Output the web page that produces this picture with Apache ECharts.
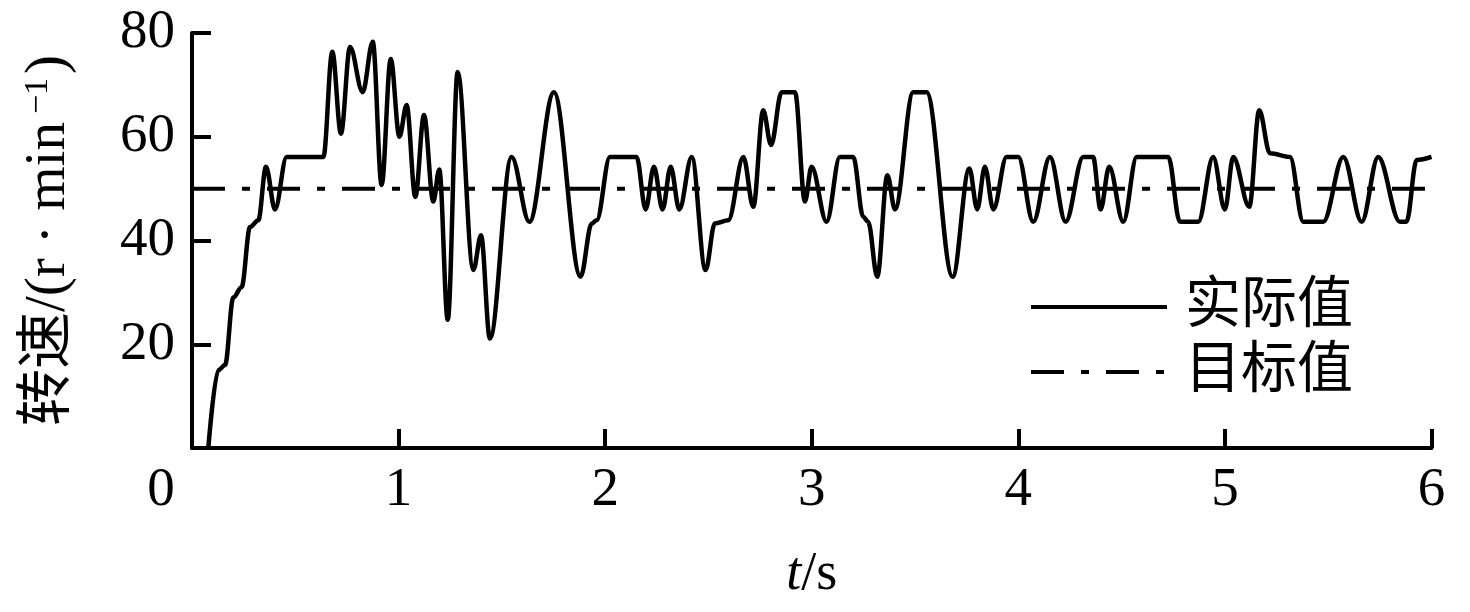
<!DOCTYPE html>
<html>
<head>
<meta charset="utf-8">
<script src="https://cdn.jsdelivr.net/npm/echarts@6/dist/echarts.min.js"></script>
<style>
html,body{margin:0;padding:0;background:#fff;}
#chart{width:1470px;height:612px;}
</style>
</head>
<body>
<div id="chart"></div>
<script>
// time in s
const timeValues = [0.079,0.127,0.16,0.2,0.24,0.281,0.321,0.358,0.402,0.458,0.636,0.679,0.721,0.765,0.826,0.875,0.918,0.962,1.004,1.039,1.081,1.123,1.168,1.197,1.238,1.286,1.362,1.399,1.442,1.547,1.633,1.752,1.881,1.935,1.959,2.023,2.152,2.196,2.236,2.278,2.317,2.359,2.419,2.486,2.531,2.596,2.669,2.717,2.765,2.803,2.854,2.919,2.967,2.999,3.072,3.136,3.201,3.249,3.273,3.317,3.366,3.403,3.491,3.556,3.682,3.763,3.801,3.838,3.879,3.943,4.0,4.072,4.153,4.229,4.314,4.362,4.398,4.44,4.508,4.573,4.726,4.782,4.871,4.943,5.0,5.04,5.118,5.166,5.218,5.315,5.379,5.476,5.573,5.662,5.742,5.847,5.879,5.928,6.0];
// actual speed r/min
const actualValues = [0,15.0,16.0,29.0,31.0,42.6,43.9,54.2,46.0,56.1,56.1,76.4,60.6,77.3,68.6,78.3,50.7,75.0,60.0,66.1,48.4,64.2,47.5,53.7,24.7,72.5,34.3,41.0,21.1,56.1,43.6,68.6,33.0,43.3,43.9,56.1,56.1,46.0,54.2,46.0,54.2,46.0,56.1,34.3,43.3,43.9,56.1,46.5,65.1,58.4,68.6,68.6,47.5,54.2,43.6,56.1,56.1,44.6,43.6,33.0,52.6,46.0,68.6,68.6,33.0,53.9,46.0,54.2,46.0,56.1,56.1,43.6,56.1,43.6,56.1,56.1,46.0,54.2,43.6,56.1,56.1,43.6,43.6,56.1,46.0,56.1,46.5,65.1,56.8,56.1,43.6,43.6,56.1,43.6,56.1,43.6,43.6,55.5,56.1];
// target speed
const targetTime = [0, 6];
const targetValues = [50, 50];
const seriesNames = ['实际值', '目标值'];
const xTicks = [0,1,2,3,4,5,6];
const yTicks = [0,20,40,60,80];

const FONT = "'Liberation Serif', 'Noto Sans CJK SC', serif";
const actualData = timeValues.map((t, i) => [t, actualValues[i]]);
const targetData = targetTime.map((t, i) => [t, targetValues[i]]);

const chart = echarts.init(document.getElementById('chart'), null, {renderer: 'canvas'});
chart.setOption({
  animation: false,
  backgroundColor: '#fff',
  grid: {left: 192, top: 33, right: 38.5, bottom: 164, containLabel: false},
  legend: {
    orient: 'vertical',
    left: 1029,
    top: 277,
    padding: 0,
    itemWidth: 136,
    itemHeight: 14,
    itemGap: 5,
    data: seriesNames,
    lineStyle: {width: 4},
    itemStyle: {opacity: 0},
    textStyle: {fontFamily: FONT, fontSize: 56, color: '#000', lineHeight: 60, padding: [0,0,0,13]}
  },
  xAxis: {
    type: 'value', min: xTicks[0], max: xTicks[xTicks.length-1], interval: 1,
    name: '{i|t}/s', nameLocation: 'middle', nameGap: 100,
    nameTextStyle: {fontFamily: FONT, fontSize: 54, color: '#000',
      rich: {i: {fontFamily: FONT, fontSize: 54, fontStyle: 'italic', color: '#000'}}},
    axisLine: {show: true, lineStyle: {color: '#000', width: 4}},
    axisTick: {show: true, inside: true, length: 19, lineStyle: {color: '#000', width: 4}},
    splitLine: {show: false},
    axisLabel: {
      margin: 15, fontFamily: FONT, fontSize: 55, color: '#000',
      formatter: v => v === 0 ? '{z|0}' : String(v),
      rich: {z: {fontFamily: FONT, fontSize: 55, color: '#000', padding: [0, 62, 0, 0]}}
    }
  },
  yAxis: {
    type: 'value', min: yTicks[0], max: yTicks[yTicks.length-1], interval: 20,
    name: '转速/(r · min{sup|\u22121}{p|)}', nameLocation: 'middle', nameGap: 114, nameRotate: 90,
    nameTextStyle: {fontFamily: FONT, fontSize: 57, color: '#000',
      rich: {
        sup: {fontFamily: FONT, fontSize: 34, color: '#000', verticalAlign: 'top', lineHeight: 57, padding: [0, 4, 0, 8]},
        p: {fontFamily: FONT, fontSize: 57, color: '#000'}
      }},
    axisLine: {show: true, lineStyle: {color: '#000', width: 4}},
    axisTick: {show: true, inside: true, length: 19, lineStyle: {color: '#000', width: 4}},
    splitLine: {show: false},
    axisLabel: {
      margin: 17, fontFamily: FONT, fontSize: 55, color: '#000',
      formatter: v => v === 0 ? '' : String(v)
    }
  },
  series: [
    {
      name: seriesNames[0], type: 'line', data: actualData,
      showSymbol: false, symbol: 'none', smooth: 0.35, smoothMonotone: 'x',
      lineStyle: {color: '#000', width: 4.5, type: 'solid'},
      itemStyle: {color: '#000'}, z: 3
    },
    {
      name: seriesNames[1], type: 'line', data: targetData,
      showSymbol: false, symbol: 'none',
      lineStyle: {color: '#000', width: 4, type: [33, 17, 8, 17]},
      itemStyle: {color: '#000'}, z: 2
    }
  ]
});
</script>
</body>
</html>
